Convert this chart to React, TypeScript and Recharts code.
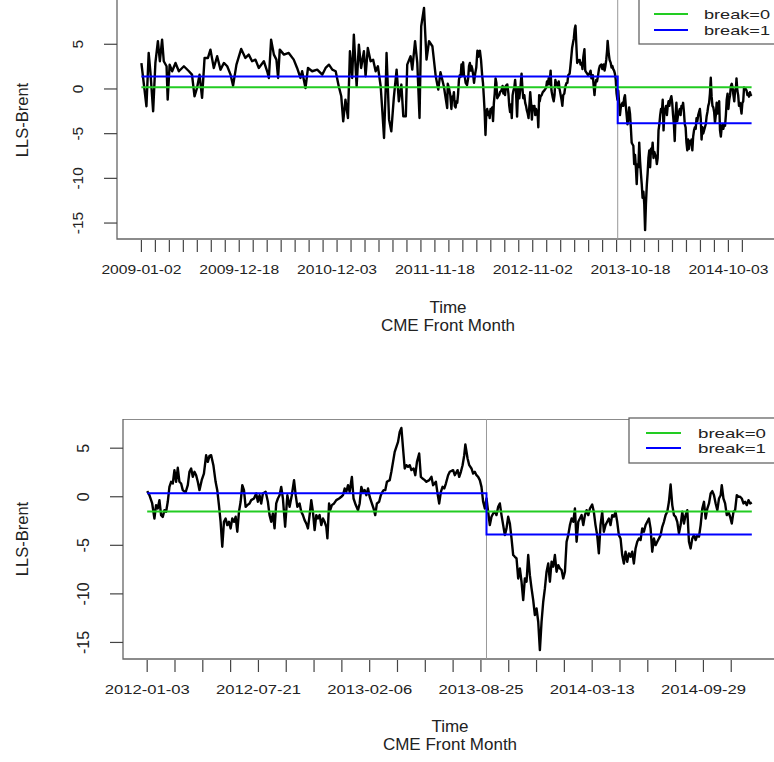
import { LineChart, Line, XAxis, YAxis, ReferenceLine, ReferenceArea } from 'recharts';

// LLS-Brent spread, [days since 2009-01-02, value]
const spread2009to2011: [number, number][] = [
  [0, 2.9], [18, -1.94], [26, 4.03], [32, 1.98], [42, -2.5], [50, 2.91], [59, 5.34], [66, 3.1], [74, 5.52], [80, 3.1],
  [90, 2.54], [94, -1.19], [101, 2.72], [110, 1.98], [122, 2.91], [134, 1.98], [152, 2.54], [170, 1.98], [181, 1.6], [190, -0.82],
  [199, 0.11], [208, 1.6], [217, -1.0], [226, 3.47], [238, 3.47], [247, 4.4], [259, 2.35], [271, 3.66], [283, 2.16], [295, 2.91],
  [307, 2.54], [319, 1.6], [328, 0.37], [340, 2.72], [357, 4.48], [372, 3.47], [384, 3.84], [396, 3.1], [408, 3.28], [420, 2.35],
  [438, 3.1], [450, 1.98], [456, 1.23], [464, 5.52], [474, 3.84], [483, 3.28], [489, 1.23], [495, 4.4], [510, 3.84], [527, 4.03],
  [545, 3.28], [557, 2.35], [569, 1.23], [575, 1.98], [587, 0.11], [596, 2.35], [611, 1.98], [629, 2.16], [647, 1.6], [659, 2.35],
  [671, 2.72], [683, 2.16], [695, 1.98], [706, 0.3], [715, -0.82], [722, -3.62], [730, -1.19], [739, -3.25], [746, 4.22], [754, 1.23],
  [760, 6.08], [770, 0.3], [778, 4.96], [786, 2.35], [796, 4.22], [802, 1.42], [810, 4.59], [820, 3.1], [829, 3.28], [838, 1.98],
  [846, 2.54], [856, 0.3], [862, -2.5], [868, -5.49], [874, 0.11], [877, 4.03], [886, -3.43], [894, -4.74], [903, -1.0], [913, 2.16],
  [921, -1.38], [930, 0.49], [937, -3.06], [946, -3.06], [951, 2.72], [963, 3.66], [969, 2.16], [979, 5.34], [987, 2.91], [995, -3.25],
  [1001, 7.01], [1011, 9.07], [1020, 3.28], [1029, 5.34], [1041, 4.78], [1053, 1.42], [1062, -0.07], [1070, 1.87], [1082, 0.3], [1094, -2.13],
];

const spread2012to2014: [number, number][] = [
  [1096, 0.58], [1100, 0.16], [1105, -0.69], [1109, -2.24], [1112, -0.86], [1115, -1.21], [1118, -0.35], [1121, -1.89], [1124, -2.07], [1127, -1.38],
  [1130, -1.55], [1133, -0.52], [1136, 1.02], [1139, 1.54], [1142, 1.36], [1145, 2.74], [1148, 1.54], [1151, 2.98], [1154, 1.54], [1157, 1.36],
  [1160, 0.68], [1165, 0.44], [1169, 1.19], [1172, 2.57], [1175, 2.91], [1178, 2.05], [1181, 2.57], [1184, 2.22], [1187, 1.54], [1190, 0.68],
  [1194, 1.71], [1198, 2.39], [1202, 4.28], [1205, 3.59], [1208, 4.21], [1211, 4.28], [1215, 3.25], [1219, 1.54], [1222, 0.68], [1225, -0.86],
  [1228, -2.58], [1231, -5.15], [1234, -2.58], [1237, -2.24], [1240, -2.92], [1243, -2.58], [1246, -3.26], [1249, -2.24], [1252, -2.58], [1255, -2.06],
  [1258, -3.6], [1261, -1.55], [1264, -0.52], [1267, 1.19], [1270, 0.68], [1273, -1.04], [1276, -0.86], [1280, -0.69], [1283, -0.35], [1288, -0.18],
  [1292, 0.34], [1295, -0.52], [1298, 0.16], [1301, -0.69], [1304, 0.34], [1309, 0.51], [1313, -0.52], [1316, -1.89], [1319, -2.58], [1322, -1.72],
  [1325, -3.26], [1328, -0.69], [1331, -0.18], [1334, 0.16], [1337, 1.02], [1340, -0.18], [1344, -3.09], [1348, 0.16], [1352, -1.04], [1356, 0.16],
  [1360, 1.71], [1363, 0.16], [1366, -1.04], [1370, -0.69], [1373, -1.55], [1376, -1.89], [1379, -2.41], [1382, -2.75], [1385, -3.26], [1388, -1.89],
  [1391, -0.35], [1394, -1.55], [1397, -3.43], [1400, -1.89], [1403, -2.24], [1406, -1.89], [1409, -2.92], [1412, -2.24], [1415, -2.58], [1418, -3.09],
  [1420, -4.29], [1423, -0.69], [1425, -1.38], [1428, -0.86], [1432, -0.69], [1436, -0.35], [1441, -0.18], [1445, 0], [1448, 0.16], [1451, 0.85],
  [1454, 0.51], [1457, 1.19], [1460, 0.51], [1464, 2.05], [1467, -0.18], [1471, -0.86], [1475, -1.38], [1478, -0.69], [1481, 1.02], [1484, 0.51],
  [1487, 0.68], [1490, 0.16], [1493, 0.85], [1496, 0], [1499, -0.52], [1503, -1.21], [1506, -1.89], [1509, -0.69], [1513, -0.52], [1516, 0.16],
  [1519, 0.51], [1521, 0.68], [1524, 0.68], [1527, 1.54], [1532, 1.71], [1535, 2.57], [1538, 3.59], [1541, 4.62], [1544, 5.14], [1547, 5.65],
  [1550, 6.68], [1553, 7.09], [1556, 4.97], [1559, 2.91], [1562, 3.25], [1565, 3.08], [1568, 3.25], [1571, 2.74], [1575, 2.91], [1578, 2.22],
  [1581, 3.59], [1585, 4.45], [1588, 2.05], [1591, 1.88], [1595, 1.71], [1598, 1.54], [1603, 1.71], [1607, 2.05], [1610, 1.19], [1615, 1.54],
  [1618, 0.34], [1621, -0.69], [1624, 0.51], [1627, 1.02], [1630, 0.85], [1633, 1.36], [1637, 2.22], [1640, 2.57], [1646, 2.74], [1649, 2.22],
  [1654, 2.74], [1657, 2.05], [1660, 2.57], [1663, 3.25], [1666, 4.28], [1668, 5.38], [1672, 3.94], [1675, 3.25], [1679, 2.91], [1682, 2.39],
  [1685, 2.57], [1688, 2.22], [1691, 2.05], [1694, 1.71], [1697, 1.02], [1700, -0.52], [1703, -1.21], [1706, -0.18], [1709, -1.55], [1712, -2.92],
  [1715, -2.06], [1718, -1.72], [1721, -1.55], [1724, -1.89], [1727, -1.04], [1730, -0.69], [1733, -1.89], [1736, -2.92], [1739, -3.95], [1742, -3.26],
  [1745, -2.06], [1748, -2.75], [1751, -4.29], [1754, -6.0], [1757, -6.18], [1760, -6.35], [1763, -8.41], [1766, -7.38], [1769, -8.75], [1772, -10.64],
  [1775, -8.41], [1778, -8.75], [1781, -6.0], [1784, -8.07], [1787, -9.44], [1790, -10.64], [1793, -12.18], [1796, -11.5], [1799, -12.87], [1802, -15.79],
  [1805, -12.87], [1808, -10.81], [1811, -9.44], [1814, -7.72], [1817, -6.87], [1820, -8.75], [1823, -6.69], [1826, -7.2], [1829, -6.0], [1832, -7.72],
  [1835, -7.04], [1838, -7.38], [1841, -7.55], [1844, -8.41], [1847, -7.72], [1850, -4.63], [1853, -3.95], [1856, -2.92], [1859, -2.24], [1862, -2.58],
  [1865, -1.21], [1868, -4.63], [1871, -2.58], [1874, -2.24], [1877, -1.89], [1880, -2.92], [1883, -1.89], [1886, -1.38], [1889, -1.89], [1892, -1.21],
  [1896, -0.8], [1899, -1.55], [1902, -2.92], [1905, -3.95], [1908, -5.83], [1911, -2.92], [1914, -1.55], [1917, -3.6], [1920, -2.92], [1923, -2.58],
  [1926, -2.24], [1929, -2.92], [1932, -1.89], [1935, -2.06], [1938, -1.55], [1941, -2.58], [1944, -3.95], [1947, -4.29], [1950, -6.0], [1953, -6.87],
  [1956, -5.66], [1959, -6.69], [1962, -5.83], [1965, -6.18], [1968, -5.66], [1971, -6.87], [1974, -5.32], [1977, -4.63], [1980, -4.29], [1983, -4.46],
  [1986, -3.26], [1989, -3.6], [1992, -2.92], [1995, -2.58], [1998, -2.24], [2001, -3.26], [2004, -5.66], [2007, -4.29], [2010, -4.98], [2013, -4.63],
  [2016, -4.29], [2019, -3.95], [2022, -3.09], [2025, -2.58], [2028, -1.89], [2031, -1.55], [2034, -0.52], [2037, 1.26], [2040, -0.86], [2043, -1.89],
  [2046, -2.06], [2049, -2.58], [2052, -3.77], [2055, -2.92], [2058, -1.55], [2061, -2.75], [2064, -1.89], [2067, -1.38], [2070, -4.63], [2073, -5.32],
  [2076, -4.29], [2079, -3.95], [2082, -4.46], [2085, -3.95], [2088, -4.12], [2091, -2.92], [2094, -1.21], [2097, -0.52], [2100, -2.24], [2103, -1.21],
  [2106, -0.69], [2109, 0.34], [2112, 0.58], [2115, 0.16], [2118, -0.69], [2121, -1.38], [2124, -0.18], [2127, 0.16], [2129, 1.19], [2132, -0.18],
  [2135, -0.69], [2138, -1.89], [2141, -1.55], [2144, -2.06], [2147, -2.75], [2150, -1.55], [2153, -1.38], [2156, 0.16], [2159, 0], [2162, 0],
  [2165, -0.18], [2168, -0.69], [2171, -0.52], [2174, -0.86], [2177, -0.35], [2180, -0.69], [2183, -0.59],
];

const topTickLabels = ['2009-01-02', '2009-12-18', '2010-12-03', '2011-11-18', '2012-11-02', '2013-10-18', '2014-10-03'];
const bottomTickLabels = ['2012-01-03', '2012-07-21', '2013-02-06', '2013-08-25', '2014-03-13', '2014-09-29'];
const yTicks = [-15, -10, -5, 0, 5];
const legendNames = ['break=0', 'break=1'];

// fitted means (no break / one break) and the break date
const topBreakDay = 1704;
const topMeanAll = 0.19;
const topMeanBefore = 1.39;
const topMeanAfter = -3.84;
const bottomBreakDay = 1706;
const bottomMeanAll = -1.51;
const bottomMeanBefore = 0.37;
const bottomMeanAfter = -3.88;

const FONT = '"Liberation Sans", Arial, Helvetica, sans-serif';
const GREEN = '#22cc22';
const BLUE = '#0000ff';
const W = 790;
const H = 345;
const PLOT_RIGHT = 776;

type Pt = { day: number; v: number };

function Panel(props: {
  rows: [number, number][];
  firstTick: number;
  tickCount: number;
  labels: string[];
  labelEvery: number;
  labelWidth: number;
  breakDay: number;
  meanAll: number;
  meanBefore: number;
  meanAfter: number;
  top: number;
  plotLeft: number;
  yFont: number;
}) {
  const data: Pt[] = props.rows.map(([day, v]) => ({ day, v }));
  const days = data.map((d) => d.day);
  const vals = data.map((d) => d.v);
  const x0 = Math.min(...days);
  const x1 = Math.max(...days);
  const y0 = Math.min(...vals);
  const y1 = Math.max(...vals);
  // R's default 4% axis extension
  const xd: [number, number] = [x0 - 0.04 * (x1 - x0), x1 + 0.04 * (x1 - x0)];
  const yd: [number, number] = [y0 - 0.04 * (y1 - y0), y1 + 0.04 * (y1 - y0)];
  const ticks = Array.from({ length: props.tickCount }, (_, i) => props.firstTick + 50 * i);
  const labelAt = new Map(props.labels.map((s, i) => [props.firstTick + 50 * props.labelEvery * i, s]));
  const b0 = [{ day: x0, v: props.meanAll }, { day: x1, v: props.meanAll }];
  const b1 = [
    { day: x0, v: props.meanBefore },
    { day: props.breakDay, v: props.meanBefore },
    { day: props.breakDay, v: props.meanAfter },
    { day: x1, v: props.meanAfter },
  ];

  const xTick = (p: any) => {
    const lab = labelAt.get(p.payload.value);
    return (
      <g>
        <line x1={p.x} x2={p.x} y1={p.y + 1} y2={p.y + 13} stroke="#444" strokeWidth={1.2} />
        {lab && (
          <text x={p.x} y={p.y + 35} textAnchor="middle" fontSize={13} fill="#222" fontFamily={FONT}
            textLength={props.labelWidth} lengthAdjust="spacingAndGlyphs">
            {lab}
          </text>
        )}
      </g>
    );
  };
  const yTick = (p: any) => (
    <g>
      <line x1={p.x - 13} x2={p.x} y1={p.y} y2={p.y} stroke="#444" strokeWidth={1.2} />
      <text transform={`translate(${p.x - 40},${p.y}) rotate(-90)`} textAnchor="middle" dominantBaseline="central"
        fontSize={props.yFont} fill="#222" fontFamily={FONT}>
        {p.payload.value}
      </text>
    </g>
  );

  return (
    <div style={{ position: 'absolute', left: 0, top: props.top }}>
      <LineChart width={W} height={H} margin={{ top: 0, right: W - PLOT_RIGHT, left: 0, bottom: 0 }}>
        <XAxis type="number" dataKey="day" domain={xd} ticks={ticks} interval={0} allowDataOverflow
          tickLine={false} axisLine={false} tickSize={0} tickMargin={0} height={H - 240} tick={xTick} />
        <YAxis type="number" domain={yd} ticks={yTicks} interval={0} allowDataOverflow width={props.plotLeft}
          tickLine={false} axisLine={false} tickSize={0} tickMargin={0} tick={yTick} />
        <ReferenceArea x1={xd[0]} x2={xd[1]} y1={yd[0]} y2={yd[1]} fill="none" stroke="#666" strokeWidth={1.3}
          ifOverflow="visible" />
        <Line data={data} dataKey="v" type="linear" stroke="#000" strokeWidth={2.4} strokeLinejoin="round"
          dot={false} isAnimationActive={false} />
        <ReferenceLine x={props.breakDay} stroke="#999" strokeWidth={1} ifOverflow="visible" />
        <Line data={b0} dataKey="v" type="linear" stroke={GREEN} strokeWidth={2} dot={false} isAnimationActive={false} />
        <Line data={b1} dataKey="v" type="linear" stroke={BLUE} strokeWidth={2} dot={false} isAnimationActive={false} />
      </LineChart>
    </div>
  );
}

function Legend({ left, top, gap, lineX0, lineX1, textX, textWidth }: {
  left: number; top: number; gap: number; lineX0: number; lineX1: number; textX: number; textWidth: number;
}) {
  return (
    <g>
      <rect x={left} y={top} width={800 - left} height={45} fill="#fff" stroke="#666" strokeWidth={1.3} />
      {legendNames.map((name, i) => {
        const y = top + 15 + gap * i;
        return (
          <g key={name}>
            <line x1={lineX0} x2={lineX1} y1={y} y2={y} stroke={i === 0 ? GREEN : BLUE} strokeWidth={2} />
            <text x={textX} y={y} dominantBaseline="central" fontSize={13} fill="#222" fontFamily={FONT}
              textLength={textWidth} lengthAdjust="spacingAndGlyphs">
              {name}
            </text>
          </g>
        );
      })}
    </g>
  );
}

export default function App() {
  const all = [...spread2009to2011, ...spread2012to2014];
  return (
    <div style={{ position: 'absolute', left: 0, top: 0, width: 774, height: 762, overflow: 'hidden', background: '#fff' }}>
      <Panel rows={all} firstTick={0} tickCount={44} labels={topTickLabels} labelEvery={7} labelWidth={80}
        breakDay={topBreakDay} meanAll={topMeanAll} meanBefore={topMeanBefore} meanAfter={topMeanAfter}
        top={-1} plotLeft={117} yFont={15.5} />
      <Panel rows={spread2012to2014} firstTick={1096} tickCount={22} labels={bottomTickLabels} labelEvery={4} labelWidth={85}
        breakDay={bottomBreakDay} meanAll={bottomMeanAll} meanBefore={bottomMeanBefore} meanAfter={bottomMeanAfter}
        top={419} plotLeft={123} yFont={16} />
      <svg width={774} height={762} style={{ position: 'absolute', left: 0, top: 0, pointerEvents: 'none' }}>
        <text transform="translate(22,120) rotate(-90)" textAnchor="middle" dominantBaseline="central" fontSize={16.5}
          fill="#222" fontFamily={FONT}>LLS-Brent</text>
        <text x={448} y={313} textAnchor="middle" fontSize={17} fill="#222" fontFamily={FONT}>Time</text>
        <text x={448} y={331} textAnchor="middle" fontSize={17} fill="#222" fontFamily={FONT}>CME Front Month</text>
        <Legend left={639} top={-1} gap={16} lineX0={654} lineX1={688} textX={704} textWidth={66} />

        <text transform="translate(22,539) rotate(-90)" textAnchor="middle" dominantBaseline="central" fontSize={16.5}
          fill="#222" fontFamily={FONT}>LLS-Brent</text>
        <text x={450} y={732} textAnchor="middle" fontSize={17} fill="#222" fontFamily={FONT}>Time</text>
        <text x={450} y={750} textAnchor="middle" fontSize={17} fill="#222" fontFamily={FONT}>CME Front Month</text>
        <Legend left={629} top={418} gap={15} lineX0={646} lineX1={681} textX={698} textWidth={68} />
      </svg>
    </div>
  );
}
